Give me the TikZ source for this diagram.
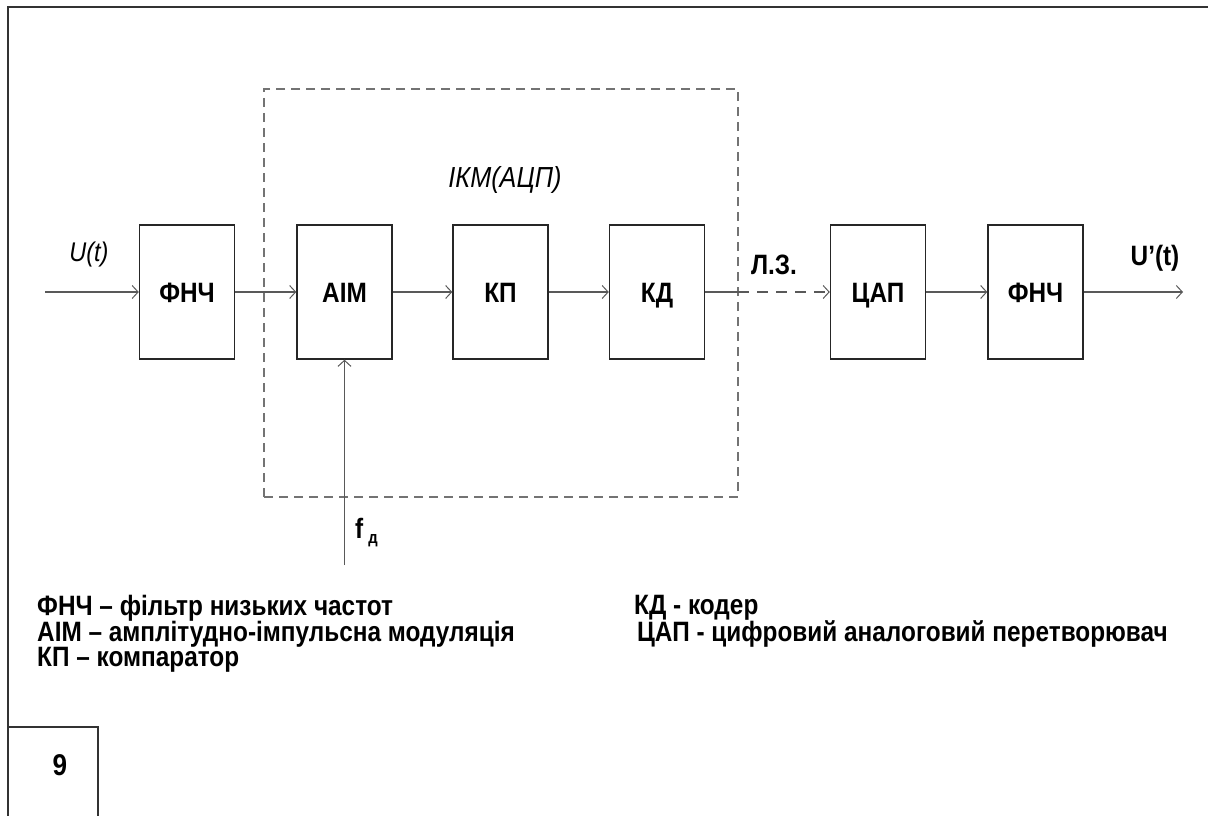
\documentclass[tikz,border=0pt]{standalone}
\usepackage{fontspec}
\setmainfont{Liberation Sans}
\newfontfamily\nar{Liberation Sans}[FakeStretch=0.87]
\usetikzlibrary{arrows.meta}
\begin{document}
\begin{tikzpicture}[x=1pt,y=-1pt,
  blk/.style={draw=black!85, line width=1.4pt, minimum width=95pt, minimum height=134pt, inner sep=0pt, text height=20pt, text depth=0pt, font=\nar\bfseries\fontsize{28}{34}\selectfont},
  wire/.style={draw=black!65, line width=1.4pt},
  sig/.style={wire, -{Straight Barb[length=6pt,width=13pt,line width=1pt]}},
  grp/.style={draw=black!55, line width=1.9pt, dash pattern=on 9pt off 6pt, minimum width=474pt, minimum height=408pt, inner sep=0pt},
  lbl/.style={inner sep=0pt, font=\nar\fontsize{27}{32}\selectfont},
  blbl/.style={inner sep=0pt, font=\nar\bfseries\fontsize{28}{32}\selectfont},
  leg/.style={inner sep=0pt, anchor=west, font=\nar\bfseries\fontsize{28}{32}\selectfont},
  frame/.style={draw=black!80, line width=1.6pt}]
\useasboundingbox (0,0) rectangle (1208,816);
% page frame
\coordinate (fbl) at (8,816);
\coordinate (ftl) at (8,7);
\coordinate (ftr) at (1208,7);
\draw[frame] (fbl) -- (ftl) -- (ftr);
\coordinate (pgtl) at (8,727);
\coordinate (pgtr) at (98,727);
\coordinate (pgbr) at (98,816);
\draw[frame] (pgtl) -- (pgtr) -- (pgbr);
\node[blbl, font=\nar\bfseries\fontsize{30}{34}\selectfont] (pg) at (60,765) {9};
% group
\node[grp] (g) at (501,293) {};
\node[lbl, font=\nar\itshape\fontsize{29}{34}\selectfont] (ikm) at (505,180) {ІКМ(АЦП)};
% blocks
\node[blk] (f1) at (187,292) {ФНЧ};
\node[blk] (aim) at (344.5,292) {АІМ};
\node[blk] (kp) at (500.5,292) {КП};
\node[blk] (kd) at (657,292) {КД};
\node[blk] (cap) at (878,292) {ЦАП};
\node[blk] (f2) at (1035.5,292) {ФНЧ};
% connectors
\coordinate (in) at (45,292);
\coordinate (out) at (1183,292);
\coordinate (lz) at (738,292);
\coordinate (fd) at (344.5,565);
\draw[sig] (in) -- (f1);
\draw[sig] (f1) -- (aim);
\draw[sig] (aim) -- (kp);
\draw[sig] (kp) -- (kd);
\draw[wire] (kd) -- (lz);
\draw[sig, dash pattern=on 11pt off 8pt] (lz) -- (cap);
\draw[sig] (cap) -- (f2);
\draw[sig] (f2) -- (out);
\draw[sig] (fd) -- (aim);
% labels
\node[lbl, font=\nar\itshape\fontsize{27}{32}\selectfont] (ut) at (89,255) {U(t)};
\node[blbl] (lzl) at (774,265) {Л.З.};
\node[blbl] (uo) at (1155,258) {U’(t)};
\node[blbl, anchor=west] (fdl) at (355,533) {f\hspace{5pt}\raisebox{-5pt}{\fontsize{17}{17}\selectfont д}};
% legend
\node[leg] (l1) at (37,608) {ФНЧ – фільтр низьких частот};
\node[leg] (l2) at (37,634) {АІМ – амплітудно-імпульсна модуляція};
\node[leg] (l3) at (37,660) {КП – компаратор};
\node[leg] (l4) at (634,608) {КД - кодер};
\node[leg] (l5) at (637,634) {ЦАП - цифровий аналоговий перетворювач};
\end{tikzpicture}
\end{document}
